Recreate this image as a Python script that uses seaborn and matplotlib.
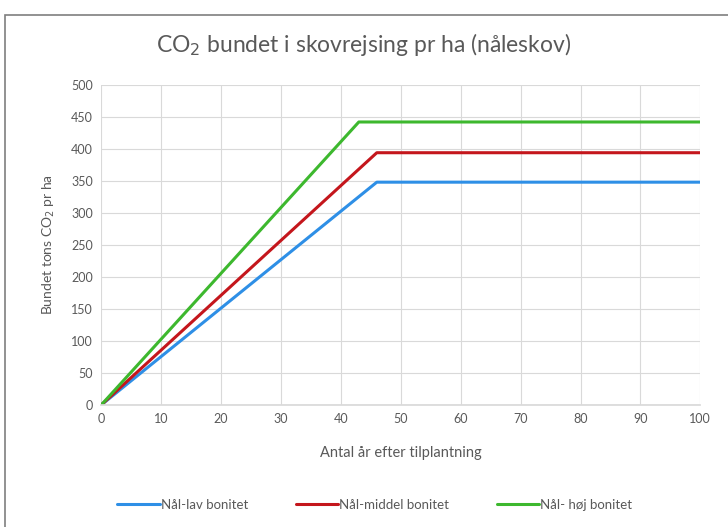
import matplotlib
matplotlib.use("Agg")
import matplotlib.pyplot as plt
import matplotlib.patches as patches
import seaborn as sns
import pandas as pd
from matplotlib.lines import Line2D

years_lav = [0, 46, 100]
co2_lav = [0, 348, 348]
years_middel = [0, 46, 100]
co2_middel = [0, 394, 394]
years_hoj = [0, 43, 100]
co2_hoj = [0, 442, 442]
series_names = ["Nål-lav bonitet", "Nål-middel bonitet", "Nål- høj bonitet"]
colors = ["#2E8FE6", "#C4161C", "#3DB82E"]

df = pd.concat([
    pd.DataFrame({"x": years_lav, "y": co2_lav, "serie": series_names[0]}),
    pd.DataFrame({"x": years_middel, "y": co2_middel, "serie": series_names[1]}),
    pd.DataFrame({"x": years_hoj, "y": co2_hoj, "serie": series_names[2]}),
])

sns.set_theme(style="white")
plt.rcParams['font.family'] = ['Lato', 'DejaVu Sans']

fig = plt.figure(figsize=(7.28, 5.27), dpi=100)
ax = fig.add_axes([0.139, 0.2315, 0.823, 0.6075])

sns.lineplot(data=df, x="x", y="y", hue="serie", palette=colors, linewidth=2.2,
             ax=ax, legend=False, sort=False)

ax.set_xlim(0, 100)
ax.set_ylim(0, 500)
ax.set_xticks(range(0, 101, 10))
ax.set_yticks(range(0, 501, 50))
ax.grid(True, color="#D9D9D9", linewidth=0.8)
ax.set_axisbelow(True)
for s in ["top", "right", "left"]:
    ax.spines[s].set_visible(False)
ax.spines["bottom"].set_color("#D9D9D9")
ax.tick_params(axis="both", colors="#595959", labelsize=9, length=0, pad=6)
ax.set_xlabel("Antal år efter tilplantning", fontsize=10.5, color="#595959", labelpad=15)
ax.set_ylabel("Bundet tons CO$_2$ pr ha", fontsize=10, color="#595959", labelpad=10)

fig.text(0.5, 0.915, "CO$_2$ bundet i skovrejsing pr ha (nåleskov)", ha="center", va="center",
         fontsize=16.5, color="#595959")

handles = [Line2D([0], [0], color=c, linewidth=2.2) for c in colors]
fig.legend(handles, series_names, loc="center", bbox_to_anchor=(0.515, 0.042), ncol=3,
           frameon=False, fontsize=9.5, labelcolor="#595959", handlelength=3.2,
           handletextpad=0.1, columnspacing=3.6)

fig.patches.append(patches.Rectangle((0.007, -0.01), 1.1, 0.982, transform=fig.transFigure,
                                     fill=False, edgecolor="#7F7F7F", linewidth=1.2))

fig.savefig("out.png", dpi=100)
